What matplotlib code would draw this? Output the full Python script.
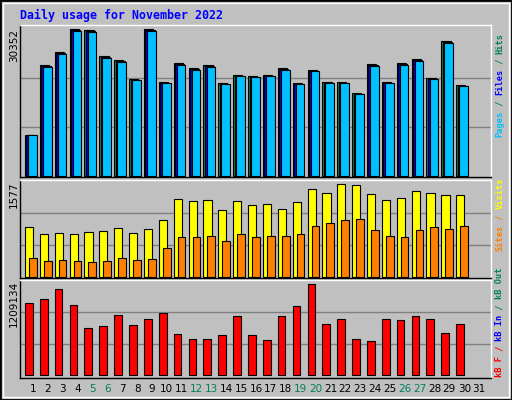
import matplotlib
matplotlib.use("Agg")
import matplotlib.pyplot as plt
from matplotlib.patches import Rectangle
import numpy as np

days = list(range(1, 32))
weekend = [5, 6, 12, 13, 19, 20, 26, 27]
hits_frac = [0.28,0.756,0.845,1.0,0.993,0.817,0.79,0.66,1.0,0.64,0.77,0.735,0.756,0.633,0.688,
             0.681,0.688,0.735,0.633,0.722,0.64,0.64,0.566,0.762,0.64,0.77,0.796,0.667,0.919,0.62]
hits = [round(f*30352) for f in hits_frac]
files = [round(h*0.99) for h in hits]
pages = [round(h*0.985) for h in hits]
visits = [810,695,712,695,728,745,794,712,778,925,1270,1237,1254,1090,1237,1172,1188,1106,1221,
          1435,1369,1517,1500,1352,1254,1287,1402,1369,1336,1336]
sites = [301,252,268,252,235,252,301,268,285,465,646,646,663,580,695,646,663,663,695,827,876,
         925,942,761,663,646,761,810,778,827]
kb_h = [216,228,258,210,141,147,180,150,168,186,123,108,108,120,177,120,105,177,207,273,153,168,
        108,102,168,165,177,168,126,153]
kbytes = [round(h/285*1209134) for h in kb_h]
max_hits, max_visits, max_kb = 30352, 1577, 1209134

W, H = 512, 400
fig = plt.figure(figsize=(5.12, 4.0), dpi=100, facecolor="#C0C0C0")
def rect(x0, y0, x1, y1):
    return [x0/W, 1-y1/H, (x1-x0)/W, (y1-y0)/H]

# outer frame
fig.patches.append(Rectangle((0, 0), 1, 1, transform=fig.transFigure, fill=False, ec="black", lw=2))
fig.patches.append(Rectangle((3/W, 3/H), 1-6/W, 1-6/H, transform=fig.transFigure, fill=False, ec="white", lw=1))

x = np.array(days[:30])
xl = (0.126, 31.8)

def setup(ax, lo, hi):
    ax.set_facecolor("#C0C0C0")
    ax.set_xlim(*xl)
    ax.set_ylim(lo, hi)
    ax.set_xticks([]); ax.set_yticks([])
    for s in ax.spines.values():
        s.set_color("black"); s.set_linewidth(1)
    ax.spines["top"].set_color("white"); ax.spines["right"].set_color("white")

ax1 = fig.add_axes(rect(20, 25, 491, 177))
setup(ax1, -max_hits/147, max_hits*151/147)
for g in (1/3, 2/3):
    ax1.axhline(max_hits*g, color="#808080", lw=1, zorder=0)
ax1.bar(x-0.54, hits, width=0.62, align="edge", color="#00805C", ec="black", lw=0.8)
ax1.bar(x-0.44, files, width=0.62, align="edge", color="#0000FF", ec="black", lw=0.8)
ax1.bar(x-0.33, pages, width=0.58, align="edge", color="#00C0FF", ec="black", lw=0.8)

ax2 = fig.add_axes(rect(20, 180, 491, 278))
setup(ax2, -max_visits*1.3/96, max_visits*(1+0.7/96))
for g in (1/3, 2/3):
    ax2.axhline(max_visits*g, color="#808080", lw=1, zorder=0)
ax2.bar(x-0.54, visits, width=0.55, align="edge", color="#FFFF00", ec="black", lw=0.8)
ax2.bar(x-0.27, sites, width=0.52, align="edge", color="#FF8000", ec="black", lw=0.8)

ax3 = fig.add_axes(rect(20, 280, 491, 378))
setup(ax3, -max_kb*2.7/95, max_kb*1.0)
for g in (1/3, 2/3):
    ax3.axhline(max_kb*g, color="#808080", lw=1, zorder=0)
ax3.bar(x-0.54, kbytes, width=0.52, align="edge", color="#FF0000", ec="black", lw=0.8)

for d in days:
    px = 20 + (d - xl[0]) * 14.87
    fig.text(px/W, 1-389/H, str(d), ha="center", va="center", fontsize=7.5,
             color="#00805C" if d in weekend else "black", family="DejaVu Sans")

fig.text(20/W, 1-15/H, "Daily usage for November 2022", fontsize=8.4, color="#0000FF",
         fontweight="bold", family="DejaVu Sans Mono", va="center", ha="left")

for txt, ytop in (("30352", 29), ("1577", 181), ("1209134", 281)):
    fig.text(14/W, 1-ytop/H, txt, rotation=90, fontsize=7.5, va="top", ha="center", family="DejaVu Sans")

def vlabel(pieces, ybottom, xpx=500):
    cw = 5.2
    y = ybottom
    for t, c in pieces:
        fig.text(xpx/W, 1-y/H, t, rotation=90, fontsize=6.2, color=c, family="DejaVu Sans Mono",
                 fontweight="bold", va="bottom", ha="center")
        y -= cw*len(t)

vlabel([("Pages", "#00C0FF"), (" / ", "#00805C"), ("Files", "#0000FF"), (" / ", "#00805C"), ("Hits", "#00805C")], 137)
vlabel([("Sites", "#FF8000"), (" / ", "#FF8000"), ("Visits", "#FFFF00")], 251)
vlabel([("kB F", "#FF0000"), (" / ", "#FF0000"), ("kB In", "#0000FF"), (" / ", "#00805C"), ("kB Out", "#00805C")], 377)

fig.savefig("out.png", dpi=100, facecolor=fig.get_facecolor())
